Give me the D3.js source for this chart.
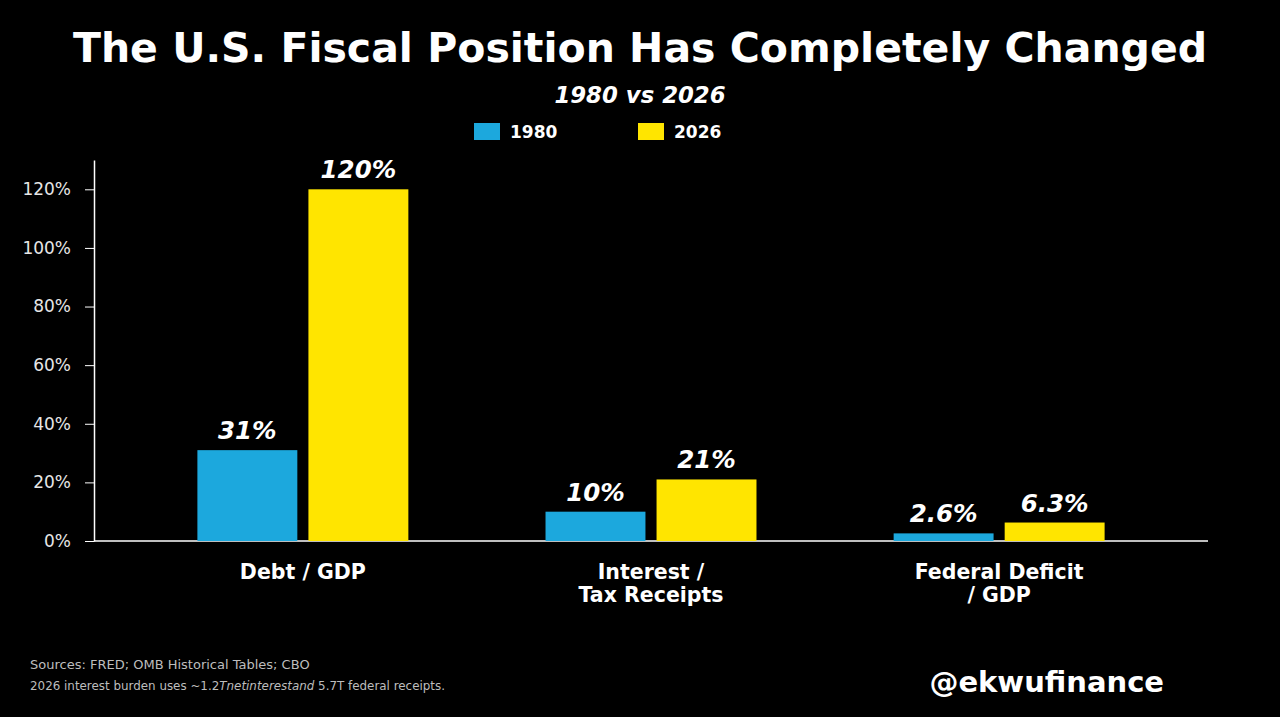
<!DOCTYPE html>
<html>
<head>
<meta charset="utf-8">
<script src="https://cdn.jsdelivr.net/npm/d3@7"></script>
<style>
  body { margin: 0; background: #000; }
  svg { display: block; font-family: "DejaVu Sans", sans-serif; }
</style>
</head>
<body>
<div id="chart"></div>
<script>
// Data
const categories = [["Debt / GDP"], ["Interest /", "Tax Receipts"], ["Federal Deficit", "/ GDP"]];
const seriesNames = ["1980", "2026"];
const values1980 = [31, 10, 2.6];
const values2026 = [120, 21, 6.3];
const labels1980 = ["31%", "10%", "2.6%"];
const labels2026 = ["120%", "21%", "6.3%"];
const yTicks = [0, 20, 40, 60, 80, 100, 120];

const colors = { "1980": "#1ca8dd", "2026": "#ffe500" };

let width = 1280,
    height = 717;

let margin = { top: 160, bottom: 176, left: 94, right: 72 };

let svg = d3.select("#chart")
    .append("svg")
    .attr("width", width)
    .attr("height", height)
    .style("background", "#000");

// Scales
let catKeys = categories.map((d, i) => i);

let xScale = d3.scaleBand()
    .domain(catKeys)
    .range([margin.left, width - margin.right])
    .paddingInner(0.394)
    .paddingOuter(0.297);

let xInner = d3.scaleBand()
    .domain(seriesNames)
    .range([0, xScale.bandwidth()])
    .paddingInner(0.1);

let yScale = d3.scaleLinear()
    .domain([0, 130])
    .range([height - margin.bottom, margin.top]);

// Title and subtitle
svg.append("text")
    .attr("x", width / 2)
    .attr("y", 62)
    .attr("text-anchor", "middle")
    .attr("fill", "#fff")
    .style("font-size", "41px")
    .style("font-weight", "bold")
    .text("The U.S. Fiscal Position Has Completely Changed");

svg.append("text")
    .attr("x", width / 2)
    .attr("y", 103)
    .attr("text-anchor", "middle")
    .attr("fill", "#fff")
    .style("font-size", "22.8px")
    .style("font-weight", "bold")
    .style("font-style", "italic")
    .text("1980 vs 2026");

// Legend
const legend = svg.selectAll(".legend")
    .data(seriesNames)
    .enter().append("g")
    .attr("class", "legend")
    .attr("transform", (d, i) => `translate(${474 + i * 164}, 123)`);

legend.append("rect")
    .attr("width", 26)
    .attr("height", 17)
    .attr("fill", d => colors[d]);

legend.append("text")
    .attr("x", 36)
    .attr("y", 15)
    .attr("fill", "#fff")
    .style("font-size", "17px")
    .style("font-weight", "bold")
    .text(d => d);

// Axes
let yAxis = svg.append("g")
    .attr("transform", `translate(${margin.left},0)`)
    .call(d3.axisLeft(yScale).tickValues(yTicks).tickFormat(d => d + "%").tickSize(9).tickSizeOuter(0));

yAxis.select(".domain").attr("stroke", "#fff").attr("stroke-width", 1.5);
yAxis.selectAll(".tick line").attr("stroke", "#fff");
yAxis.selectAll(".tick text")
    .attr("fill", "#e6e6e6")
    .attr("x", -23)
    .style("font-size", "17px")
    .style("font-family", "DejaVu Sans");

svg.append("line")
    .attr("x1", margin.left)
    .attr("x2", width - margin.right)
    .attr("y1", yScale(0))
    .attr("y2", yScale(0))
    .attr("stroke", "#fff")
    .attr("stroke-width", 1.5);

// Category labels
categories.forEach((lines, i) => {
    const cx = xScale(i) + xScale.bandwidth() / 2;
    const t = svg.append("text")
        .attr("x", cx)
        .attr("y", yScale(0) + 38)
        .attr("text-anchor", "middle")
        .attr("fill", "#fff")
        .style("font-size", "20.5px")
        .style("font-weight", "bold");
    lines.forEach((line, j) => {
        t.append("tspan")
            .attr("x", cx)
            .attr("dy", j === 0 ? 0 : 23)
            .text(line);
    });
});

// Bars
const barData = [];
catKeys.forEach(i => {
    barData.push({ cat: i, series: "1980", value: values1980[i], label: labels1980[i] });
    barData.push({ cat: i, series: "2026", value: values2026[i], label: labels2026[i] });
});

svg.selectAll(".bar")
    .data(barData)
    .enter().append("rect")
    .attr("class", "bar")
    .attr("x", d => xScale(d.cat) + xInner(d.series))
    .attr("y", d => yScale(d.value))
    .attr("width", xInner.bandwidth())
    .attr("height", d => yScale(0) - yScale(d.value))
    .attr("fill", d => colors[d.series]);

svg.selectAll(".bar-label")
    .data(barData)
    .enter().append("text")
    .attr("class", "bar-label")
    .attr("x", d => xScale(d.cat) + xInner(d.series) + xInner.bandwidth() / 2)
    .attr("y", d => yScale(d.value) - 11)
    .attr("text-anchor", "middle")
    .attr("fill", "#fff")
    .style("font-size", "24.5px")
    .style("font-weight", "bold")
    .style("font-style", "italic")
    .text(d => d.label);

// Footer
svg.append("text")
    .attr("x", 30)
    .attr("y", 669)
    .attr("fill", "#bdbdbd")
    .style("font-size", "13px")
    .text("Sources: FRED; OMB Historical Tables; CBO");

const note = svg.append("text")
    .attr("x", 30)
    .attr("y", 690)
    .attr("fill", "#bdbdbd")
    .style("font-size", "11.9px");
note.append("tspan").text("2026 interest burden uses ~1.2");
note.append("tspan").style("font-style", "italic").text("Tnetinterestand");
note.append("tspan").text(" 5.7T federal receipts.");

svg.append("text")
    .attr("x", 1164)
    .attr("y", 692)
    .attr("text-anchor", "end")
    .attr("fill", "#fff")
    .style("font-size", "29px")
    .style("font-weight", "bold")
    .text("@ekwufinance");
</script>
</body>
</html>
